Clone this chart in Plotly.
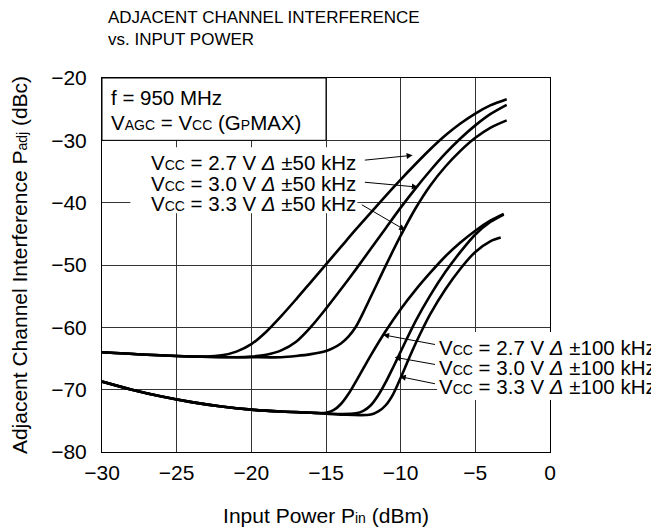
import plotly.graph_objects as go

# Vcc = 2.7 / 3.0 / 3.3 V, delta +-50 kHz
x_50_27 = [-30, -27, -25, -23, -22, -21, -20, -19, -18, -17, -16, -15, -14, -13, -12, -11, -10, -9, -8, -7, -6, -5, -4, -2.9]
y_50_27 = [-64.0, -64.4, -64.6, -64.7, -64.5, -63.9, -62.7, -60.7, -58.2, -55.5, -52.7, -49.9, -47.1, -44.3, -41.6, -38.9, -36.3, -33.8, -31.4, -29.2, -27.3, -25.7, -24.4, -23.4]

x_50_30 = [-30, -25, -21, -20, -19, -18, -17, -16, -15, -14, -13, -12, -11, -10, -9, -8, -7, -6, -5, -4, -2.9]
y_50_30 = [-64.0, -64.6, -64.8, -64.7, -64.4, -63.7, -62.3, -59.9, -57.0, -53.9, -50.7, -47.4, -44.1, -40.8, -37.7, -34.8, -32.1, -29.7, -27.6, -25.8, -24.3]

x_50_33 = [-30, -25, -20, -18, -17, -16, -15, -14.5, -14, -13.5, -13, -12.5, -12, -11.5, -11, -10, -9, -8, -7, -6, -5, -4, -2.9]
y_50_33 = [-64.0, -64.6, -64.8, -64.8, -64.6, -64.3, -63.8, -63.3, -62.6, -61.5, -59.9, -57.6, -55.1, -52.6, -50.1, -45.3, -40.9, -37.2, -34.2, -31.7, -29.6, -28.0, -26.8]

# Vcc = 2.7 / 3.0 / 3.3 V, delta +-100 kHz
x_100_27 = [-30, -28, -26, -24, -22, -20, -18, -16, -15, -14.5, -14, -13.5, -13, -12.5, -12, -11, -10, -9, -8, -7, -6, -5, -4, -3.1]
y_100_27 = [-68.7, -70.0, -71.1, -72.0, -72.7, -73.2, -73.5, -73.7, -73.7, -73.3, -72.3, -70.7, -68.7, -66.6, -64.5, -60.6, -57.1, -54.0, -51.2, -48.6, -46.4, -44.5, -42.9, -41.8]

x_100_30 = [-30, -28, -26, -24, -22, -20, -18, -16, -14, -13, -12.5, -12, -11.5, -11, -10.5, -10, -9, -8, -7, -6, -5, -4, -3.1]
y_100_30 = [-68.7, -70.0, -71.1, -72.0, -72.7, -73.2, -73.5, -73.7, -73.9, -73.8, -73.4, -72.5, -70.9, -68.8, -66.4, -63.9, -59.0, -54.8, -51.1, -47.9, -45.1, -43.1, -41.9]

x_100_33 = [-30, -28, -26, -24, -22, -20, -18, -16, -14, -12, -11.5, -11, -10.5, -10, -9.5, -9, -8.5, -8, -7, -6, -5, -4, -3.3]
y_100_33 = [-68.7, -70.0, -71.1, -72.0, -72.7, -73.2, -73.5, -73.7, -74.0, -74.0, -73.5, -72.5, -70.7, -68.1, -65.3, -62.6, -60.1, -57.8, -53.9, -50.6, -47.9, -46.2, -45.6]

x_ticks = [-30, -25, -20, -15, -10, -5, 0]
y_ticks = [-80, -70, -60, -50, -40, -30, -20]

FONT = "Liberation Sans, Arial, sans-serif"
SUB = '<span style="font-size:14px">%s</span>'
VCC = "V" + SUB % "CC"

fig = go.Figure()
for xs, ys in [(x_50_27, y_50_27), (x_50_30, y_50_30), (x_50_33, y_50_33),
               (x_100_27, y_100_27), (x_100_30, y_100_30), (x_100_33, y_100_33)]:
    fig.add_trace(go.Scatter(x=xs, y=ys, mode="lines",
                             line=dict(color="black", width=2.6, shape="spline", smoothing=0.9),
                             showlegend=False, hoverinfo="skip"))

# white boxes behind the labels
fig.add_shape(type="rect", x0=-30, x1=-15, y0=-30, y1=-20, xref="x", yref="y",
              fillcolor="white", line=dict(color="black", width=1), layer="above")
fig.add_shape(type="rect", x0=-28.1, x1=-12.9, y0=-41.7, y1=-31.1, xref="x", yref="y",
              fillcolor="white", line=dict(width=0), layer="above")
fig.add_shape(type="rect", x0=0.748, x1=1.3, y0=0.139, y1=0.321, xref="paper", yref="paper",
              fillcolor="white", line=dict(width=0), layer="above")

ann = []
ann.append(dict(x=-29.5, y=-23.05, text="f = 950 MHz"))
ann.append(dict(x=-29.5, y=-27.06,
                text="V" + SUB % "AGC" + " = " + VCC + " (G" + SUB % "P" + "MAX)"))
for yy, v in zip([-33.56, -36.85, -40.2], ["2.7", "3.0", "3.3"]):
    ann.append(dict(x=-26.84, y=yy, text=VCC + " = " + v + " V <i>Δ</i> ±50 kHz"))
for yy, v in zip([-63.16, -66.37, -69.57], ["2.7", "3.0", "3.3"]):
    ann.append(dict(x=-7.55, y=yy, text=VCC + " = " + v + " V <i>Δ</i> ±100 kHz"))
for a in ann:
    fig.add_annotation(xref="x", yref="y", xanchor="left", yanchor="middle",
                       showarrow=False, font=dict(family=FONT, size=20.5, color="black"), **a)

# arrows: (tail x, tail y, head x, head y)
arrows = [(-12.5, -33.2, -9.2, -32.4), (-12.5, -36.7, -8.85, -37.5), (-12.7, -40.2, -9.7, -44.4),
          (-7.6, -62.8, -11.18, -61.2), (-7.6, -66.0, -10.4, -64.8), (-7.6, -69.1, -10.06, -67.9)]
for tx, ty, hx, hy in arrows:
    fig.add_annotation(x=hx, y=hy, ax=tx, ay=ty, xref="x", yref="y", axref="x", ayref="y",
                       text="", showarrow=True, arrowhead=2, arrowsize=1.2, arrowwidth=1,
                       arrowcolor="black", standoff=0, startstandoff=0)

TFONT = dict(family="Liberation Sans Narrow, Arial Narrow, Liberation Sans, sans-serif", size=17, color="black")
fig.add_annotation(xref="paper", yref="paper", x=0.0096, y=1.163, xanchor="left", yanchor="middle",
                   text="ADJACENT CHANNEL INTERFERENCE", showarrow=False, font=TFONT)
fig.add_annotation(xref="paper", yref="paper", x=0.0096, y=1.102, xanchor="left", yanchor="middle",
                   text="vs. INPUT POWER", showarrow=False, font=TFONT)

# the page body adds 8 px on top/left, so the figure is 8 px smaller
fig.update_layout(
    width=651, height=523,
    margin=dict(l=94, r=109, t=70, b=79),
    paper_bgcolor="white", plot_bgcolor="white",
    font=dict(family=FONT, size=21, color="black"),
)
fig.update_xaxes(range=[-30, 0], tickvals=x_ticks, ticks="", showgrid=True, gridcolor="#333",
                 gridwidth=1, showline=True, linecolor="black", linewidth=1, mirror=True,
                 zeroline=False, ticklabelstandoff=2, automargin=False,
                 title=dict(text="Input Power P" + SUB % "in" + " (dBm)", standoff=25,
                            font=dict(size=21)))
fig.update_yaxes(range=[-80, -20], tickvals=y_ticks, ticks="", showgrid=True, gridcolor="#333",
                 gridwidth=1, showline=True, linecolor="black", linewidth=1, mirror=True,
                 zeroline=False, ticklabelstandoff=10, automargin=False,
                 title=dict(text="Adjacent Channel Interference P" + SUB % "adj" + " (dBc)", standoff=18,
                            font=dict(size=21)))

fig.write_html("out.html")
